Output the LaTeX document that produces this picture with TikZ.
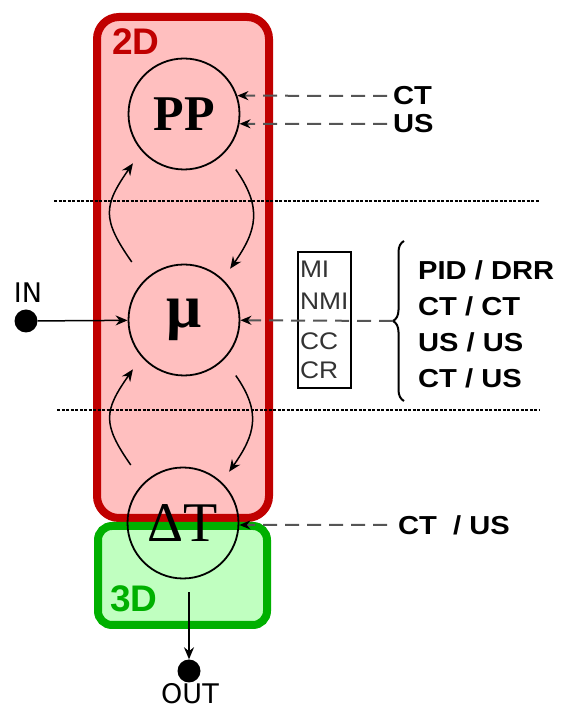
\documentclass[tikz,border=0pt]{standalone}
\usepackage{fontspec}
\usepackage{tikz}
\usetikzlibrary{arrows.meta,calc,decorations.pathreplacing}
\newfontfamily\labelfont{DejaVu Sans}
\newfontfamily\dimfont{Liberation Sans}
\newfontfamily\modfont[FakeStretch=1.12]{Liberation Sans}
\newfontfamily\metricfont[FakeStretch=1.1]{Liberation Sans}
\newfontfamily\stagefont{Liberation Serif}
\definecolor{Ink}{HTML}{000000}
\definecolor{TwoD}{HTML}{C00000}
\definecolor{TwoDPale}{HTML}{FFBFBF}
\definecolor{ThreeD}{HTML}{00B000}
\definecolor{ThreeDPale}{HTML}{C0FFC0}
\definecolor{Dash}{HTML}{555555}
\definecolor{Metric}{HTML}{333333}
\tikzset{region/.style={line width=8pt,rounded corners=22pt},
  dimlabel/.style={font=\dimfont\bfseries\fontsize{37}{37}\selectfont,inner sep=0pt},
  stage/.style={circle,draw=Ink,line width=1.8pt,minimum size=111pt,inner sep=0pt},
  flow/.style={-{Stealth[length=12pt,width=10pt]},line width=1.5pt,draw=Ink},
  feed/.style={-{Stealth[length=11pt,width=9pt,color=Ink]},line width=2pt,
    draw=Dash,dash pattern=on 14pt off 8pt},
  modality/.style={font=\modfont\bfseries\fontsize{26}{36}\selectfont,align=left,
    inner sep=0pt},
  terminal/.style={circle,fill=Ink,minimum size=23pt,inner sep=0pt},
  termlabel/.style={font=\labelfont\fontsize{27}{27}\selectfont,inner sep=0pt},
  metricbox/.style={draw=Ink,line width=1.3pt,text=Metric,align=left,text width=49pt,
    inner sep=2pt,minimum height=136pt,font=\metricfont\fontsize{24}{32}\selectfont},
  divider/.style={line width=1.1pt,dash pattern=on 3pt off 1.5pt}}

\begin{document}
\begin{tikzpicture}[x=1pt,y=1pt]
    \useasboundingbox (0,0) rectangle (560,710);
    \draw[region,draw=TwoD,fill=TwoDPale] (97,192) rectangle (269,693);
    \draw[region,draw=ThreeD,fill=ThreeDPale,rounded corners=14pt] (98,85) rectangle (267,184);
    \node[dimlabel,text=TwoD] (lbl2d) at (136,668) {2D};
    \node[dimlabel,text=ThreeD] (lbl3d) at (134,111) {3D};
    \draw[divider] (54,509) -- (540,509);
    \draw[divider] (57,300) -- (540,300);
    \node[stage,font=\stagefont\bfseries\fontsize{50}{50}\selectfont] (pp) at (184,596) {PP};
    \node[stage,font=\stagefont\bfseries\fontsize{62}{62}\selectfont] (mu) at (184,390) {μ};
    \node[stage,font=\stagefont\fontsize{56}{56}\selectfont] (dT) at (183,187) {ΔT};
    \draw[flow] ($(mu)+(132:78)$) to[out=125,in=235,looseness=1.35] ($(pp)+(224:71)$);
    \draw[flow] ($(pp)+(-47:76)$) to[out=-55,in=55,looseness=1.2] ($(mu)+(48:69)$);
    \draw[flow] ($(dT)+(132:78)$) to[out=125,in=235,looseness=1.35] ($(mu)+(224:71)$);
    \draw[flow] ($(mu)+(-47:76)$) to[out=-55,in=55,looseness=1.2] ($(dT)+(48:69)$);
    \node[terminal] (in) at (26,389) {};
    \node[termlabel] (inlbl) at (28,417) {IN};
    \draw[flow] (in) -- (mu);
    \node[terminal] (out) at (189,39) {};
    \node[termlabel] (outlbl) at (190,16) {OUT};
    \draw[flow,shorten <=13pt] (dT.south -| out) -- (out);
    \node[modality,anchor=west] (ct) at (393,614) {CT};
    \node[modality,anchor=west] (us) at (393,586) {US};
    \draw[feed,shorten <=6pt] (ct.west) -- (pp.19);
    \draw[feed,shorten <=6pt] (us.west) -- (pp.-10);
    \node[metricbox] (metric) at (324.5,390) {MI\\NMI\\[8pt]CC\\[-3pt]CR};
    \coordinate (brtop) at (404,469);
    \coordinate (brbot) at (404,309);
    \coordinate (brtip) at (393,389);
    \draw[decorate,decoration={brace,amplitude=11pt},line width=2pt] (brbot) -- (brtop);
    \draw[feed] (brtip) -- (mu);
    \node[modality,anchor=north west] (pairs) at (418,450)
      {PID / DRR\\CT / CT\\US / US\\CT / US};
    \node[modality,anchor=west] (ctus) at (398,185) {CT\ \ / US};
    \draw[feed,shorten <=11pt] (ctus.west) -- (dT.-2);
\end{tikzpicture}
\end{document}
